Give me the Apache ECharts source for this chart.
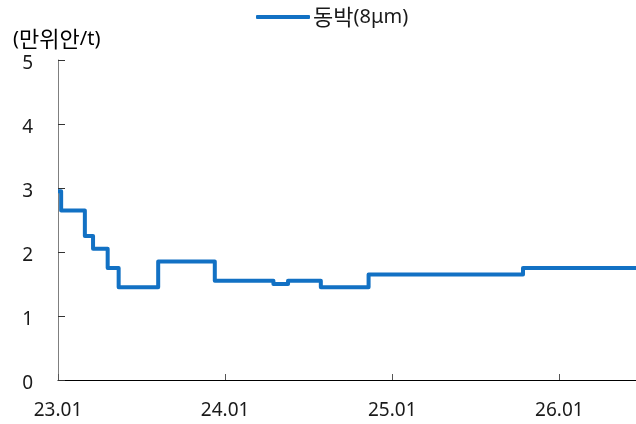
<!DOCTYPE html>
<html>
<head>
<meta charset="utf-8">
<script src="https://cdn.jsdelivr.net/npm/echarts@6/dist/echarts.min.js"></script>
<style>
  html, body { margin: 0; padding: 0; background: #fff; }
  #chart { width: 636px; height: 424px; }
</style>
</head>
<body>
<div id="chart"></div>
<script>
// Copper foil (8μm) processing fee, step changes by date
const changeDates = [
  '2023-01-01', '2023-01-08', '2023-02-27', '2023-03-17', '2023-04-18',
  '2023-05-12', '2023-08-07', '2023-12-09', '2024-04-15', '2024-05-17',
  '2024-07-28', '2024-11-10', '2025-10-13', '2026-06-16'
];
const feeValues = [
  2.95, 2.65, 2.25, 2.05, 1.75,
  1.45, 1.85, 1.55, 1.50, 1.55,
  1.45, 1.65, 1.75, 1.75
];
const seriesName = '동박(8μm)';
const unitLabel = '(만위안/t)';
const yearTickLabels = ['23.01', '24.01', '25.01', '26.01'];

// months elapsed since 2023-01-01 (fractional)
function monthIndex(s) {
  const [y, m, d] = s.split('-').map(Number);
  const dim = new Date(y, m, 0).getDate();
  return (y - 2023) * 12 + (m - 1) + (d - 1) / dim;
}

const points = changeDates.map((d, i) => [monthIndex(d), feeValues[i]]);
const xMax = points[points.length - 1][0];
const tickPositions = yearTickLabels.map((_, i) => i * 12);

const krFont = "'Noto Sans CJK KR', sans-serif";
const numFont = "'Noto Sans', 'Noto Sans CJK KR', sans-serif";
const ink = '#1a1a1a';

// split mixed Hangul / Latin text into rich-text runs
function richRuns(text) {
  return text.replace(/([\uAC00-\uD7A3]+)|([^\uAC00-\uD7A3]+)/g,
    (m, kr, lat) => kr ? '{kr|' + kr + '}' : '{lat|' + lat + '}');
}
const richStyles = {
  kr: { fontFamily: krFont, fontSize: 22, color: ink },
  lat: { fontFamily: numFont, fontSize: 20, color: ink }
};

const chart = echarts.init(document.getElementById('chart'), null, { renderer: 'canvas' });

chart.setOption({
  animation: false,
  backgroundColor: '#ffffff',
  grid: { left: 58, right: 0, top: 60, bottom: 44, containLabel: false },
  legend: {
    top: 6,
    left: 256,
    padding: 0,
    icon: 'roundRect',
    itemWidth: 54,
    itemHeight: 4,
    textStyle: { rich: richStyles, padding: [0, 0, 0, -2] },
    formatter: name => richRuns(name),
    data: [seriesName]
  },
  graphic: [{
    type: 'text',
    left: 13,
    top: 28,
    style: { text: richRuns(unitLabel), rich: richStyles }
  }],
  xAxis: {
    type: 'value',
    min: 0,
    max: xMax,
    interval: 12,
    axisLine: { show: true, lineStyle: { color: '#000000', width: 1 } },
    axisTick: { show: true, inside: true, length: 6, customValues: tickPositions, lineStyle: { color: '#555555' } },
    axisLabel: {
      customValues: tickPositions,
      fontSize: 19, color: ink, margin: 21, fontFamily: numFont,
      formatter: v => yearTickLabels[Math.round(v / 12)] || ''
    },
    splitLine: { show: false }
  },
  yAxis: {
    type: 'value',
    min: 0,
    max: 5,
    interval: 1,
    axisLine: { show: true, lineStyle: { color: '#7f7f7f', width: 1 } },
    axisTick: { show: true, inside: true, length: 7, lineStyle: { color: '#333333' } },
    axisLabel: {
      color: ink, margin: 25,
      formatter: v => '{n|' + v + '}',
      rich: { n: { fontSize: 19, fontFamily: numFont, color: ink, padding: [7, 0, 0, 0] } }
    },
    splitLine: { show: false }
  },
  series: [{
    name: seriesName,
    type: 'line',
    step: 'end',
    data: points,
    symbol: 'none',
    lineStyle: { width: 4, color: '#1271c4', join: 'round' },
    itemStyle: { color: '#1271c4' },
    clip: true
  }]
});
</script>
</body>
</html>
